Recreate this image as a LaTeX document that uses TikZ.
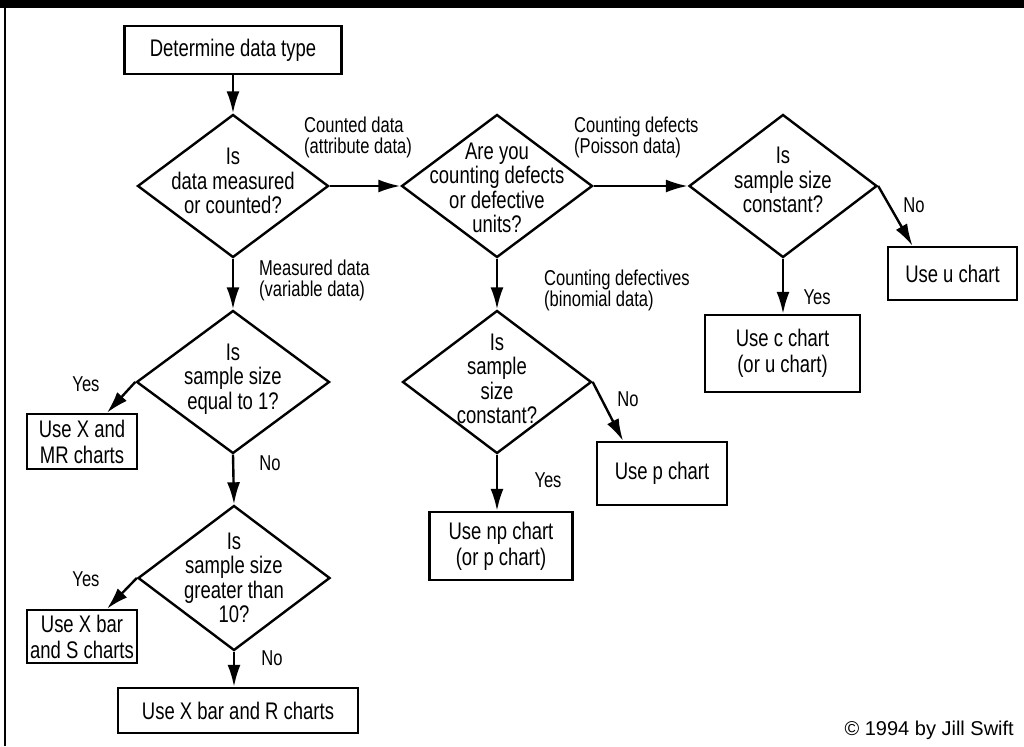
\documentclass[tikz,border=0pt]{standalone}
\usepackage{fontspec}
\setmainfont{Liberation Sans}[FakeStretch=0.77]
\newfontfamily\copyfont{Liberation Sans}
\usetikzlibrary{shapes.geometric,arrows.meta,calc}
\begin{document}
\begin{tikzpicture}[x=1pt,y=-1pt,
  line width=2.4pt,
  box/.style={draw,line width=2.4pt,inner sep=0pt,align=center,font=\fontsize{24}{26}\selectfont},
  dia/.style={draw,diamond,line width=2.4pt,inner sep=0pt,minimum width=191pt,minimum height=143pt},
  qtext/.style={align=center,inner sep=0pt,font=\fontsize{24}{24.5}\selectfont},
  lbl/.style={align=left,inner sep=0pt,font=\fontsize{21.5}{21}\selectfont},
  yn/.style={inner sep=0pt,font=\fontsize{21.5}{21}\selectfont},
  arr/.style={-{Latex[length=22pt,width=13pt]},line width=2.4pt}
]
\useasboundingbox (0,0) rectangle (1024,746);
% frame of the scan
\fill (0,0) rectangle (1024,8);
\draw[line width=2.5pt] (5,0) -- (5,746);

% process boxes
\node[box,minimum width=217pt,minimum height=48pt] (dt) at (233,50) {Determine data type};
\node[box,minimum width=110pt,minimum height=55pt] (mr) at (82,441.5) {Use X and\\MR charts};
\node[box,minimum width=110pt,minimum height=53pt] (xs) at (82,636.5) {Use X bar\\and S charts};
\node[box,minimum width=240pt,minimum height=45pt] (xr) at (238,710.5) {Use X bar and R charts};
\node[box,minimum width=143pt,minimum height=68pt] (np) at (501,546) {Use np chart\\(or p chart)};
\node[box,minimum width=130pt,minimum height=63pt] (p) at (662,473.5) {Use p chart};
\node[box,minimum width=155pt,minimum height=77pt] (c) at (782.5,353.5) {Use c chart\\(or u chart)};
\node[box,minimum width=129pt,minimum height=53pt] (u) at (952.5,273.5) {Use u chart};

% decisions
\node[dia] (d1) at (233,186) {};
\node[qtext] (d1t) at (233,181) {Is\\data measured\\or counted?};
\node[dia] (d2) at (497,186) {};
\node[qtext] (d2t) at (497,188) {Are you\\counting defects\\or defective\\units?};
\node[dia,minimum width=188pt] (d3) at (783,186) {};
\node[qtext] (d3t) at (783,180) {Is\\sample size\\constant?};
\node[dia,minimum width=189pt] (d4) at (497,382) {};
\node[qtext] (d4t) at (497,379) {Is\\sample\\size\\constant?};
\node[dia,minimum width=193pt] (d5) at (233,382) {};
\node[qtext] (d5t) at (233,379) {Is\\sample size\\equal to 1?};
\node[dia,minimum width=192pt,minimum height=145pt] (d6) at (234,578) {};
\node[qtext] (d6t) at (234,578) {Is\\sample size\\greater than\\10?};

% connectors
\draw[arr] (dt.south) -- (d1.north);
\draw[arr] (d1.east) -- (d2.west);
\draw[arr] (d2.east) -- (d3.west);
\draw[arr] (d3.east) -- ($(u.north)+(-40,0)$);
\draw[arr] (d3.south) -- (d3.south |- c.north);
\draw[arr] (d2.south) -- (d4.north);
\draw[arr] (d4.east) -- ($(p.north)+(-39,0)$);
\draw[arr] (d4.south) -- (d4.south |- np.north);
\draw[arr] (d1.south) -- (d5.north);
\draw[arr] (d5.west) -- ($(mr.north)+(25,0)$);
\draw[arr] (d5.south) -- (d6.north);
\draw[arr] (d6.west) -- ($(xs.north)+(25,0)$);
\draw[arr] (d6.south) -- (d6.south |- xr.north);

% labels
\node[lbl,anchor=west] (l1) at (303,137) {Counted data\\(attribute data)};
\node[lbl,anchor=west] (l2) at (258,280) {Measured data\\(variable data)};
\node[lbl,anchor=west] (l3) at (573,137) {Counting defects\\(Poisson data)};
\node[lbl,anchor=west] (l4) at (543,290) {Counting defectives\\(binomial data)};
\node[yn] (n1) at (914,205) {No};
\node[yn] (y1) at (817,297) {Yes};
\node[yn] (n2) at (628,399) {No};
\node[yn] (y2) at (548,480) {Yes};
\node[yn] (y3) at (86,384) {Yes};
\node[yn] (n3) at (270,463) {No};
\node[yn] (y4) at (86,579) {Yes};
\node[yn] (n4) at (272,658) {No};
\node[anchor=east,inner sep=0pt,font=\copyfont\fontsize{20}{20}\selectfont] (cr) at (1015,730) {© 1994 by Jill Swift};
\end{tikzpicture}
\end{document}
